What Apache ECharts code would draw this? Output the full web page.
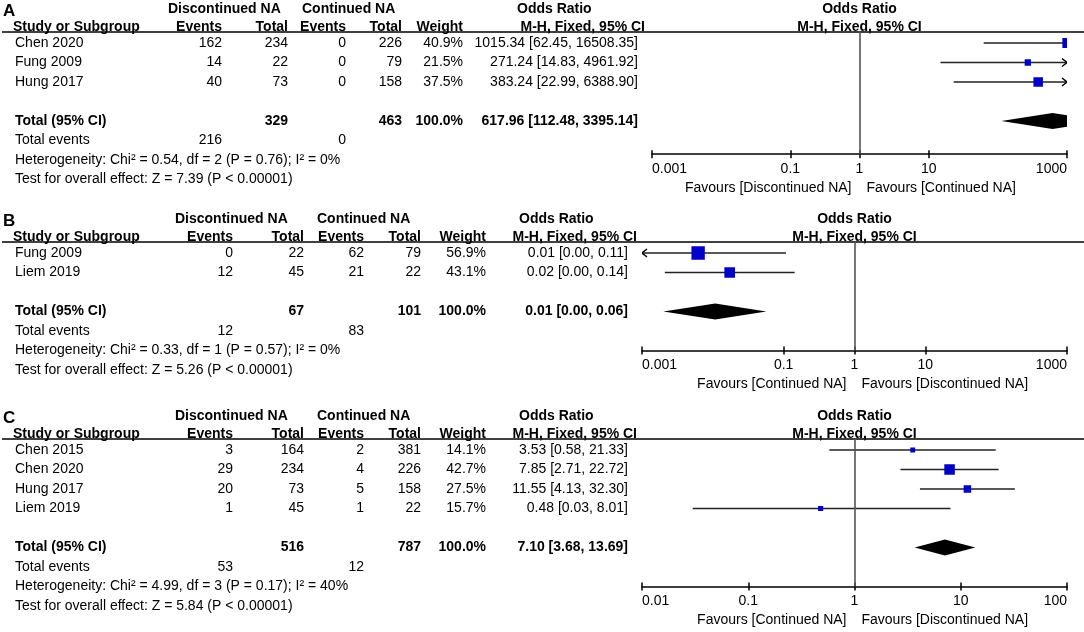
<!DOCTYPE html>
<html>
<head>
<meta charset="utf-8">
<script src="https://cdn.jsdelivr.net/npm/echarts@6/dist/echarts.min.js"></script>
<style>
  html, body { margin: 0; padding: 0; background: #fff; }
  #main { width: 1084px; height: 632px; }
</style>
</head>
<body>
<div id="main"></div>
<script>
// ---- panel A ----
const studiesA = ['Chen 2020', 'Fung 2009', 'Hung 2017'];
const discEventsA = [162, 14, 40];
const discTotalA = [234, 22, 73];
const contEventsA = [0, 0, 0];
const contTotalA = [226, 79, 158];
const weightA = [40.9, 21.5, 37.5];
const orA = [1015.34, 271.24, 383.24];
const loA = [62.45, 14.83, 22.99];
const hiA = [16508.35, 4961.92, 6388.90];
const pooledA = [617.96, 112.48, 3395.14];   // OR, lower, upper
const sumTotalA = [329, 463];
const sumEventsA = [216, 0];
const hetA = 'Heterogeneity: Chi² = 0.54, df = 2 (P = 0.76); I² = 0%';
const testA = 'Test for overall effect: Z = 7.39 (P < 0.00001)';
const ticksA = [0.001, 0.1, 1, 10, 1000];
const favoursA = ['Favours [Discontinued NA]', 'Favours [Continued NA]'];

// ---- panel B ----
const studiesB = ['Fung 2009', 'Liem 2019'];
const discEventsB = [0, 12];
const discTotalB = [22, 45];
const contEventsB = [62, 21];
const contTotalB = [79, 22];
const weightB = [56.9, 43.1];
const orB = [0.0062, 0.0173];
const loB = [0.00036, 0.0021];
const hiB = [0.108, 0.143];
const pooledB = [0.0108, 0.0020, 0.057];
const sumTotalB = [67, 101];
const sumEventsB = [12, 83];
const hetB = 'Heterogeneity: Chi² = 0.33, df = 1 (P = 0.57); I² = 0%';
const testB = 'Test for overall effect: Z = 5.26 (P < 0.00001)';
const ticksB = [0.001, 0.1, 1, 10, 1000];
const favoursB = ['Favours [Continued NA]', 'Favours [Discontinued NA]'];

// ---- panel C ----
const studiesC = ['Chen 2015', 'Chen 2020', 'Hung 2017', 'Liem 2019'];
const discEventsC = [3, 29, 20, 1];
const discTotalC = [164, 234, 73, 45];
const contEventsC = [2, 4, 5, 1];
const contTotalC = [381, 226, 158, 22];
const weightC = [14.1, 42.7, 27.5, 15.7];
const orC = [3.53, 7.85, 11.55, 0.48];
const loC = [0.58, 2.71, 4.13, 0.03];
const hiC = [21.33, 22.72, 32.30, 8.01];
const pooledC = [7.10, 3.68, 13.69];
const sumTotalC = [516, 787];
const sumEventsC = [53, 12];
const hetC = 'Heterogeneity: Chi² = 4.99, df = 3 (P = 0.17); I² = 40%';
const testC = 'Test for overall effect: Z = 5.84 (P < 0.00001)';
const ticksC = [0.01, 0.1, 1, 10, 100];
const favoursC = ['Favours [Continued NA]', 'Favours [Discontinued NA]'];

const panels = [
  { key: 'A', studies: studiesA, ev1: discEventsA, tot1: discTotalA, ev2: contEventsA, tot2: contTotalA, w: weightA,
    or: orA, lo: loA, hi: hiA, pooled: pooledA, sumTot: sumTotalA, sumEv: sumEventsA, het: hetA, test: testA, ticks: ticksA, fav: favoursA },
  { key: 'B', studies: studiesB, ev1: discEventsB, tot1: discTotalB, ev2: contEventsB, tot2: contTotalB, w: weightB,
    or: orB, lo: loB, hi: hiB, pooled: pooledB, sumTot: sumTotalB, sumEv: sumEventsB, het: hetB, test: testB, ticks: ticksB, fav: favoursB },
  { key: 'C', studies: studiesC, ev1: discEventsC, tot1: discTotalC, ev2: contEventsC, tot2: contTotalC, w: weightC,
    or: orC, lo: loC, hi: hiC, pooled: pooledC, sumTot: sumTotalC, sumEv: sumEventsC, het: hetC, test: testC, ticks: ticksC, fav: favoursC }
];

// layout (pixels): header rule y, axis row, plot left, column right edges, group header left edges
const ROW = 19.5;
const PAD = 11;
const layout = [
  { top: 32,  axisRow: 5.7, left: 652, cols: [222, 288, 346, 402, 463, 638], headRight: 645, heads: [168, 302, 517] },
  { top: 242, axisRow: 5.0, left: 642, cols: [233, 304, 364, 421, 486, 628], headRight: 637, heads: [175, 317, 519] },
  { top: 439, axisRow: 7.0, left: 642, cols: [233, 304, 364, 421, 486, 628], headRight: 637, heads: [175, 317, 519] }
];

const FONT = "'Liberation Sans', Arial, Helvetica, sans-serif";
const fmtCI = (a, b, c) => a.toFixed(2) + ' [' + b.toFixed(2) + ', ' + c.toFixed(2) + ']';

function buildRows(p, L) {
  const c = L.cols, h = L.heads, n = p.studies.length;
  const rows = [];
  rows.push({ r: -PAD / ROW, rule: true });
  rows.push({ r: -1.74, cells: [
    { x: 3, t: p.key, b: true, fs: 17, a: 'left', dy: 2 },
    { x: h[0], t: 'Discontinued NA', b: true, a: 'left' },
    { x: h[1], t: 'Continued NA', b: true, a: 'left' },
    { x: h[2], t: 'Odds Ratio', b: true, a: 'left' },
    { fx: 0, t: 'Odds Ratio', b: true, a: 'center' }
  ] });
  rows.push({ r: -0.82, cells: [
    { x: 13, t: 'Study or Subgroup', b: true, a: 'left' },
    { x: c[0], t: 'Events', b: true, a: 'right' },
    { x: c[1], t: 'Total', b: true, a: 'right' },
    { x: c[2], t: 'Events', b: true, a: 'right' },
    { x: c[3], t: 'Total', b: true, a: 'right' },
    { x: c[4], t: 'Weight', b: true, a: 'right' },
    { x: L.headRight, t: 'M-H, Fixed, 95% CI', b: true, a: 'right' },
    { fx: 0, t: 'M-H, Fixed, 95% CI', b: true, a: 'center' }
  ] });
  p.studies.forEach((s, i) => {
    rows.push({ r: i, cells: [
      { x: 15, t: s, a: 'left' },
      { x: c[0], t: String(p.ev1[i]), a: 'right' },
      { x: c[1], t: String(p.tot1[i]), a: 'right' },
      { x: c[2], t: String(p.ev2[i]), a: 'right' },
      { x: c[3], t: String(p.tot2[i]), a: 'right' },
      { x: c[4], t: p.w[i].toFixed(1) + '%', a: 'right' },
      { x: c[5], t: fmtCI(p.or[i], p.lo[i], p.hi[i]), a: 'right' }
    ] });
  });
  rows.push({ r: n + 1, cells: [
    { x: 15, t: 'Total (95% CI)', b: true, a: 'left' },
    { x: c[1], t: String(p.sumTot[0]), b: true, a: 'right' },
    { x: c[3], t: String(p.sumTot[1]), b: true, a: 'right' },
    { x: c[4], t: '100.0%', b: true, a: 'right' },
    { x: c[5], t: fmtCI(p.pooled[0], p.pooled[1], p.pooled[2]), b: true, a: 'right' }
  ] });
  rows.push({ r: n + 2, cells: [
    { x: 15, t: 'Total events', a: 'left' },
    { x: c[0], t: String(p.sumEv[0]), a: 'right' },
    { x: c[2], t: String(p.sumEv[1]), a: 'right' }
  ] });
  rows.push({ r: n + 3, cells: [{ x: 15, t: p.het, a: 'left' }] });
  rows.push({ r: n + 4, cells: [{ x: 15, t: p.test, a: 'left' }] });
  rows.push({ r: L.axisRow + 34 / ROW, cells: [
    { fx: 0, dx: -8, t: p.fav[0], a: 'right' },
    { fx: 0, dx: 7, t: p.fav[1], a: 'left' }
  ] });
  return rows;
}

function tableRenderer(rows) {
  return function (params, api) {
    const row = rows[params.dataIndex];
    const y = api.coord([0, row.r])[1];
    if (row.rule) {
      return { type: 'line', shape: { x1: 2, y1: y, x2: 1084, y2: y }, style: { stroke: '#000', lineWidth: 1.5 } };
    }
    return {
      type: 'group',
      children: row.cells.map(cell => ({
        type: 'text',
        x: cell.fx !== undefined ? api.coord([cell.fx, row.r])[0] + (cell.dx || 0) : cell.x,
        y: y + (cell.dy || 0),
        style: {
          text: cell.t, fill: '#000', align: cell.a, verticalAlign: 'middle',
          font: (cell.b ? 'bold ' : '') + (cell.fs || 14) + 'px ' + FONT
        }
      }))
    };
  };
}

function forestRenderer(params, api) {
  const cs = params.coordSys;
  const right = cs.x + cs.width;
  const row = api.value(4);
  const pm = api.coord([api.value(0), row]);
  const pl = api.coord([api.value(1), row]);
  const ph = api.coord([api.value(2), row]);
  const y = pm[1];
  if (api.value(5) === 1) {
    return { type: 'polygon', shape: { points: [[pl[0], y], [pm[0], y - 8], [ph[0], y], [pm[0], y + 8]] }, style: { fill: '#000' } };
  }
  const xl = Math.max(pl[0], cs.x), xr = Math.min(ph[0], right);
  const s = 2 + 0.2 * api.value(3);
  const kids = [
    { type: 'line', shape: { x1: xl, y1: y, x2: xr, y2: y }, style: { stroke: '#222', lineWidth: 1.3 } },
    { type: 'rect', shape: { x: pm[0] - s / 2, y: y - s / 2, width: s, height: s }, style: { fill: '#0000c8' } }
  ];
  if (ph[0] > right && pm[0] <= right) {
    kids.push({ type: 'polyline', shape: { points: [[right - 5, y - 4], [right, y], [right - 5, y + 4]] }, style: { stroke: '#000', lineWidth: 1.4, fill: null } });
  }
  if (pl[0] < cs.x && pm[0] >= cs.x) {
    kids.push({ type: 'polyline', shape: { points: [[cs.x + 5, y - 4], [cs.x, y], [cs.x + 5, y + 4]] }, style: { stroke: '#000', lineWidth: 1.4, fill: null } });
  }
  return { type: 'group', children: kids };
}

const grids = [], xAxes = [], yAxes = [], series = [];
panels.forEach((p, i) => {
  const L = layout[i];
  const tl = p.ticks.map(Math.log10);
  grids.push({ left: L.left, right: 17, top: L.top, height: L.axisRow * ROW + PAD, containLabel: false, outerBoundsMode: 'none' });
  const base = { type: 'value', gridIndex: i, position: 'bottom', min: tl[0], max: tl[tl.length - 1], splitLine: { show: false } };
  xAxes.push(Object.assign({}, base, {
    axisLine: { show: true, onZero: false, lineStyle: { color: '#000', width: 1.5 } },
    axisTick: { show: true, length: 4, customValues: tl, lineStyle: { color: '#000', width: 1.5 } },
    axisLabel: {
      show: true, customValues: tl, margin: 8, color: '#000', fontSize: 14, fontFamily: FONT,
      alignMinLabel: 'left', alignMaxLabel: 'right',
      formatter: v => { const t = p.ticks.find(t => Math.abs(Math.log10(t) - v) < 1e-6); return t === undefined ? '' : String(t); }
    }
  }));
  xAxes.push(Object.assign({}, base, {
    axisLine: { show: false, onZero: false },
    axisTick: { show: true, inside: true, length: 4, customValues: tl, lineStyle: { color: '#000', width: 1.5 } },
    axisLabel: { show: false }
  }));
  yAxes.push({ type: 'value', gridIndex: i, inverse: true, min: -PAD / ROW, max: L.axisRow, show: false });

  const n = p.studies.length;
  const forestData = p.studies.map((s, k) => [Math.log10(p.or[k]), Math.log10(p.lo[k]), Math.log10(p.hi[k]), p.w[k], k, 0]);
  forestData.push([Math.log10(p.pooled[0]), Math.log10(p.pooled[1]), Math.log10(p.pooled[2]), 100, n + 1, 1]);
  series.push({
    type: 'custom', xAxisIndex: 2 * i, yAxisIndex: i, clip: true, silent: true,
    renderItem: forestRenderer, data: forestData,
    markLine: {
      silent: true, symbol: ['none', 'none'], label: { show: false },
      lineStyle: { color: '#555', width: 1.6, type: 'solid' },
      data: [{ xAxis: 0 }]
    }
  });
  const rows = buildRows(p, L);
  series.push({
    type: 'custom', xAxisIndex: 2 * i, yAxisIndex: i, clip: false, silent: true,
    renderItem: tableRenderer(rows), data: rows.map(r => [0, r.r])
  });
});

const chart = echarts.init(document.getElementById('main'));
chart.setOption({
  animation: false,
  backgroundColor: '#fff',
  grid: grids,
  xAxis: xAxes,
  yAxis: yAxes,
  series: series
});
window.addEventListener('resize', () => chart.resize());
</script>
</body>
</html>
